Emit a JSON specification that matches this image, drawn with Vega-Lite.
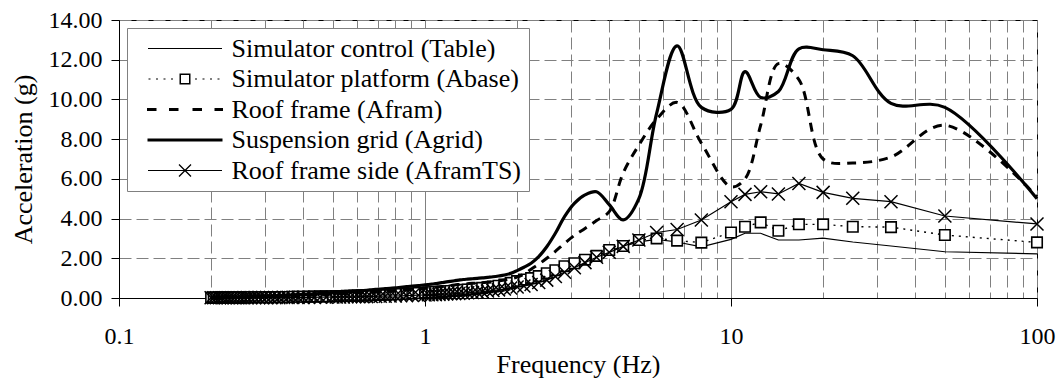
{
"$schema": "https://vega.github.io/schema/vega-lite/v6.json",
"width": 918, "height": 278,
"autosize": {"type": "none"},
"padding": {"left": 119, "top": 20, "right": 23, "bottom": 80},
"background": "white",
"config": {"view": {"stroke": "black", "strokeWidth": 1}},
"datasets": {
"table": [{"f":0.2,"a":0.02},{"f":0.204,"a":0.02},{"f":0.208,"a":0.02},{"f":0.213,"a":0.02},{"f":0.217,"a":0.02},{"f":0.222,"a":0.03},{"f":0.227,"a":0.03},{"f":0.233,"a":0.03},{"f":0.238,"a":0.03},{"f":0.244,"a":0.03},{"f":0.25,"a":0.03},{"f":0.256,"a":0.03},{"f":0.263,"a":0.03},{"f":0.27,"a":0.04},{"f":0.278,"a":0.04},{"f":0.286,"a":0.04},{"f":0.294,"a":0.04},{"f":0.303,"a":0.04},{"f":0.313,"a":0.04},{"f":0.323,"a":0.05},{"f":0.333,"a":0.05},{"f":0.345,"a":0.05},{"f":0.357,"a":0.05},{"f":0.37,"a":0.06},{"f":0.385,"a":0.06},{"f":0.4,"a":0.06},{"f":0.417,"a":0.07},{"f":0.435,"a":0.07},{"f":0.455,"a":0.08},{"f":0.476,"a":0.08},
{"f":0.5,"a":0.09},{"f":0.513,"a":0.09},{"f":0.526,"a":0.1},{"f":0.541,"a":0.1},{"f":0.556,"a":0.11},{"f":0.571,"a":0.11},{"f":0.588,"a":0.12},{"f":0.606,"a":0.12},{"f":0.625,"a":0.13},{"f":0.645,"a":0.13},{"f":0.667,"a":0.14},{"f":0.69,"a":0.15},{"f":0.714,"a":0.16},{"f":0.741,"a":0.17},{"f":0.769,"a":0.18},{"f":0.8,"a":0.19},{"f":0.833,"a":0.2},{"f":0.87,"a":0.21},{"f":0.909,"a":0.23},{"f":0.952,"a":0.25},
{"f":1,"a":0.27},{"f":1.026,"a":0.28},{"f":1.053,"a":0.29},{"f":1.081,"a":0.3},{"f":1.111,"a":0.31},{"f":1.143,"a":0.32},{"f":1.176,"a":0.34},{"f":1.212,"a":0.35},{"f":1.25,"a":0.37},{"f":1.29,"a":0.39},{"f":1.333,"a":0.41},{"f":1.379,"a":0.43},{"f":1.429,"a":0.45},{"f":1.481,"a":0.48},{"f":1.538,"a":0.51},{"f":1.6,"a":0.54},{"f":1.667,"a":0.58},{"f":1.739,"a":0.62},{"f":1.818,"a":0.67},{"f":1.905,"a":0.73},
{"f":2,"a":0.8},{"f":2.105,"a":0.88},{"f":2.222,"a":0.97},{"f":2.353,"a":1.08},{"f":2.5,"a":1.22},{"f":2.667,"a":1.38},{"f":2.857,"a":1.55},{"f":3.077,"a":1.73},{"f":3.333,"a":1.93},{"f":3.636,"a":2.13},
{"f":4,"a":2.38},{"f":4.444,"a":2.6},{"f":5,"a":2.83},{"f":5.714,"a":2.95},{"f":6.667,"a":2.82},{"f":8,"a":2.58},{"f":10,"a":2.95},
{"f":11.111,"a":3.26},{"f":12.5,"a":3.26},{"f":14.286,"a":2.92},{"f":16.667,"a":2.92},{"f":20,"a":3.02},{"f":25,"a":2.82},{"f":33.333,"a":2.62},{"f":50,"a":2.33},{"f":100,"a":2.22}],
"abase": [{"f":0.2,"a":0.02},{"f":0.204,"a":0.02},{"f":0.208,"a":0.02},{"f":0.213,"a":0.02},{"f":0.217,"a":0.02},{"f":0.222,"a":0.03},{"f":0.227,"a":0.03},{"f":0.233,"a":0.03},{"f":0.238,"a":0.03},{"f":0.244,"a":0.03},{"f":0.25,"a":0.03},{"f":0.256,"a":0.03},{"f":0.263,"a":0.03},{"f":0.27,"a":0.04},{"f":0.278,"a":0.04},{"f":0.286,"a":0.04},{"f":0.294,"a":0.04},{"f":0.303,"a":0.04},{"f":0.313,"a":0.04},{"f":0.323,"a":0.05},{"f":0.333,"a":0.05},{"f":0.345,"a":0.05},{"f":0.357,"a":0.05},{"f":0.37,"a":0.06},{"f":0.385,"a":0.06},{"f":0.4,"a":0.06},{"f":0.417,"a":0.07},{"f":0.435,"a":0.07},{"f":0.455,"a":0.08},{"f":0.476,"a":0.08},
{"f":0.5,"a":0.09},{"f":0.513,"a":0.09},{"f":0.526,"a":0.1},{"f":0.541,"a":0.1},{"f":0.556,"a":0.11},{"f":0.571,"a":0.11},{"f":0.588,"a":0.12},{"f":0.606,"a":0.12},{"f":0.625,"a":0.13},{"f":0.645,"a":0.13},{"f":0.667,"a":0.14},{"f":0.69,"a":0.15},{"f":0.714,"a":0.16},{"f":0.741,"a":0.17},{"f":0.769,"a":0.18},{"f":0.8,"a":0.19},{"f":0.833,"a":0.2},{"f":0.87,"a":0.21},{"f":0.909,"a":0.23},{"f":0.952,"a":0.25},
{"f":1,"a":0.27},{"f":1.026,"a":0.28},{"f":1.053,"a":0.29},{"f":1.081,"a":0.3},{"f":1.111,"a":0.31},{"f":1.143,"a":0.32},{"f":1.176,"a":0.34},{"f":1.212,"a":0.35},{"f":1.25,"a":0.37},{"f":1.29,"a":0.39},{"f":1.333,"a":0.41},{"f":1.379,"a":0.43},{"f":1.429,"a":0.45},{"f":1.481,"a":0.48},{"f":1.538,"a":0.51},{"f":1.6,"a":0.54},{"f":1.667,"a":0.58},{"f":1.739,"a":0.62},{"f":1.818,"a":0.68},{"f":1.905,"a":0.76},
{"f":2,"a":0.85},{"f":2.105,"a":0.93},{"f":2.222,"a":1.0},{"f":2.353,"a":1.1},{"f":2.5,"a":1.25},{"f":2.667,"a":1.4},{"f":2.857,"a":1.6},{"f":3.077,"a":1.75},{"f":3.333,"a":1.93},{"f":3.636,"a":2.12},
{"f":4,"a":2.42},{"f":4.444,"a":2.62},{"f":5,"a":2.92},{"f":5.714,"a":3.0},{"f":6.667,"a":2.89},{"f":8,"a":2.79},{"f":10,"a":3.3},
{"f":11.111,"a":3.59},{"f":12.5,"a":3.81},{"f":14.286,"a":3.39},{"f":16.667,"a":3.71},{"f":20,"a":3.71},{"f":25,"a":3.59},{"f":33.333,"a":3.57},{"f":50,"a":3.17},{"f":100,"a":2.8}],
"afram": [{"f":0.2,"a":0.02},{"f":0.204,"a":0.02},{"f":0.208,"a":0.02},{"f":0.213,"a":0.02},{"f":0.217,"a":0.03},{"f":0.222,"a":0.03},{"f":0.227,"a":0.03},{"f":0.233,"a":0.04},{"f":0.238,"a":0.04},{"f":0.244,"a":0.04},{"f":0.25,"a":0.04},{"f":0.256,"a":0.04},{"f":0.263,"a":0.05},{"f":0.27,"a":0.05},{"f":0.278,"a":0.06},{"f":0.286,"a":0.06},{"f":0.294,"a":0.06},{"f":0.303,"a":0.07},{"f":0.313,"a":0.07},{"f":0.323,"a":0.08},{"f":0.333,"a":0.09},{"f":0.345,"a":0.09},{"f":0.357,"a":0.1},{"f":0.37,"a":0.11},{"f":0.385,"a":0.12},{"f":0.4,"a":0.13},{"f":0.417,"a":0.14},{"f":0.435,"a":0.15},{"f":0.455,"a":0.17},{"f":0.476,"a":0.18},
{"f":0.5,"a":0.19},{"f":0.513,"a":0.2},{"f":0.526,"a":0.21},{"f":0.541,"a":0.22},{"f":0.556,"a":0.22},{"f":0.571,"a":0.23},{"f":0.588,"a":0.24},{"f":0.606,"a":0.25},{"f":0.625,"a":0.27},{"f":0.645,"a":0.28},{"f":0.667,"a":0.29},{"f":0.69,"a":0.31},{"f":0.714,"a":0.32},{"f":0.741,"a":0.34},{"f":0.769,"a":0.35},{"f":0.8,"a":0.37},{"f":0.833,"a":0.39},{"f":0.87,"a":0.41},{"f":0.909,"a":0.43},{"f":0.952,"a":0.46},
{"f":1,"a":0.49},{"f":1.026,"a":0.5},{"f":1.053,"a":0.52},{"f":1.081,"a":0.54},{"f":1.111,"a":0.56},{"f":1.143,"a":0.58},{"f":1.176,"a":0.61},{"f":1.212,"a":0.63},{"f":1.25,"a":0.66},{"f":1.29,"a":0.68},{"f":1.333,"a":0.7},{"f":1.379,"a":0.72},{"f":1.429,"a":0.74},{"f":1.481,"a":0.75},{"f":1.538,"a":0.77},{"f":1.6,"a":0.79},{"f":1.667,"a":0.82},{"f":1.739,"a":0.86},{"f":1.818,"a":0.91},{"f":1.905,"a":0.97},
{"f":2,"a":1.05},{"f":2.105,"a":1.2},{"f":2.222,"a":1.45},{"f":2.353,"a":1.7},{"f":2.5,"a":2.0},{"f":2.667,"a":2.35},{"f":2.857,"a":2.75},{"f":3.077,"a":3.15},{"f":3.333,"a":3.5},{"f":3.636,"a":3.9},
{"f":4,"a":4.35},{"f":4.444,"a":6.3},{"f":5,"a":7.7},{"f":5.714,"a":9.0},{"f":6.667,"a":9.85},{"f":8,"a":7.8},{"f":10,"a":5.6},
{"f":11.111,"a":6.0},{"f":12.5,"a":8.7},{"f":14.286,"a":11.8},{"f":16.667,"a":11.0},{"f":20,"a":7.0},{"f":25,"a":6.8},{"f":33.333,"a":7.1},{"f":50,"a":8.7},{"f":100,"a":5.1}],
"agrid": [{"f":0.2,"a":0.03},{"f":0.204,"a":0.03},{"f":0.208,"a":0.03},{"f":0.213,"a":0.03},{"f":0.217,"a":0.04},{"f":0.222,"a":0.04},{"f":0.227,"a":0.04},{"f":0.233,"a":0.05},{"f":0.238,"a":0.05},{"f":0.244,"a":0.05},{"f":0.25,"a":0.06},{"f":0.256,"a":0.06},{"f":0.263,"a":0.07},{"f":0.27,"a":0.07},{"f":0.278,"a":0.08},{"f":0.286,"a":0.08},{"f":0.294,"a":0.09},{"f":0.303,"a":0.1},{"f":0.313,"a":0.1},{"f":0.323,"a":0.11},{"f":0.333,"a":0.12},{"f":0.345,"a":0.13},{"f":0.357,"a":0.14},{"f":0.37,"a":0.15},{"f":0.385,"a":0.17},{"f":0.4,"a":0.18},{"f":0.417,"a":0.19},{"f":0.435,"a":0.21},{"f":0.455,"a":0.23},{"f":0.476,"a":0.25},
{"f":0.5,"a":0.27},{"f":0.513,"a":0.28},{"f":0.526,"a":0.29},{"f":0.541,"a":0.3},{"f":0.556,"a":0.31},{"f":0.571,"a":0.32},{"f":0.588,"a":0.34},{"f":0.606,"a":0.35},{"f":0.625,"a":0.37},{"f":0.645,"a":0.39},{"f":0.667,"a":0.41},{"f":0.69,"a":0.43},{"f":0.714,"a":0.45},{"f":0.741,"a":0.47},{"f":0.769,"a":0.49},{"f":0.8,"a":0.51},{"f":0.833,"a":0.54},{"f":0.87,"a":0.57},{"f":0.909,"a":0.6},{"f":0.952,"a":0.63},
{"f":1,"a":0.66},{"f":1.026,"a":0.68},{"f":1.053,"a":0.7},{"f":1.081,"a":0.72},{"f":1.111,"a":0.75},{"f":1.143,"a":0.78},{"f":1.176,"a":0.81},{"f":1.212,"a":0.84},{"f":1.25,"a":0.87},{"f":1.29,"a":0.9},{"f":1.333,"a":0.93},{"f":1.379,"a":0.95},{"f":1.429,"a":0.97},{"f":1.481,"a":0.99},{"f":1.538,"a":1.01},{"f":1.6,"a":1.04},{"f":1.667,"a":1.07},{"f":1.739,"a":1.11},{"f":1.818,"a":1.16},{"f":1.905,"a":1.24},
{"f":2,"a":1.38},{"f":2.105,"a":1.55},{"f":2.222,"a":1.75},{"f":2.353,"a":2.08},{"f":2.5,"a":2.58},{"f":2.667,"a":3.26},{"f":2.857,"a":4.1},{"f":3.077,"a":4.77},{"f":3.333,"a":5.19},{"f":3.636,"a":5.35},
{"f":4,"a":4.7},{"f":4.444,"a":3.93},{"f":5,"a":5.0},{"f":5.714,"a":9.3},{"f":6.667,"a":12.7},{"f":8,"a":9.6},{"f":10,"a":9.5},
{"f":11.111,"a":11.4},{"f":12.5,"a":10.1},{"f":14.286,"a":10.4},{"f":16.667,"a":12.55},{"f":20,"a":12.5},{"f":25,"a":12.2},{"f":33.333,"a":9.8},{"f":50,"a":9.6},{"f":100,"a":5.0}],
"aframts": [{"f":0.2,"a":0.01},{"f":0.204,"a":0.01},{"f":0.208,"a":0.01},{"f":0.213,"a":0.01},{"f":0.217,"a":0.01},{"f":0.222,"a":0.01},{"f":0.227,"a":0.01},{"f":0.233,"a":0.01},{"f":0.238,"a":0.01},{"f":0.244,"a":0.01},{"f":0.25,"a":0.01},{"f":0.256,"a":0.02},{"f":0.263,"a":0.02},{"f":0.27,"a":0.02},{"f":0.278,"a":0.02},{"f":0.286,"a":0.02},{"f":0.294,"a":0.02},{"f":0.303,"a":0.02},{"f":0.313,"a":0.02},{"f":0.323,"a":0.02},{"f":0.333,"a":0.02},{"f":0.345,"a":0.03},{"f":0.357,"a":0.03},{"f":0.37,"a":0.03},{"f":0.385,"a":0.03},{"f":0.4,"a":0.03},{"f":0.417,"a":0.03},{"f":0.435,"a":0.03},{"f":0.455,"a":0.04},{"f":0.476,"a":0.04},
{"f":0.5,"a":0.05},{"f":0.513,"a":0.05},{"f":0.526,"a":0.05},{"f":0.541,"a":0.05},{"f":0.556,"a":0.06},{"f":0.571,"a":0.06},{"f":0.588,"a":0.06},{"f":0.606,"a":0.07},{"f":0.625,"a":0.07},{"f":0.645,"a":0.07},{"f":0.667,"a":0.08},{"f":0.69,"a":0.08},{"f":0.714,"a":0.09},{"f":0.741,"a":0.09},{"f":0.769,"a":0.1},{"f":0.8,"a":0.1},{"f":0.833,"a":0.11},{"f":0.87,"a":0.12},{"f":0.909,"a":0.13},{"f":0.952,"a":0.14},
{"f":1,"a":0.15},{"f":1.026,"a":0.16},{"f":1.053,"a":0.16},{"f":1.081,"a":0.17},{"f":1.111,"a":0.18},{"f":1.143,"a":0.19},{"f":1.176,"a":0.2},{"f":1.212,"a":0.21},{"f":1.25,"a":0.22},{"f":1.29,"a":0.23},{"f":1.333,"a":0.24},{"f":1.379,"a":0.26},{"f":1.429,"a":0.28},{"f":1.481,"a":0.3},{"f":1.538,"a":0.32},{"f":1.6,"a":0.35},{"f":1.667,"a":0.38},{"f":1.739,"a":0.41},{"f":1.818,"a":0.45},{"f":1.905,"a":0.5},
{"f":2,"a":0.55},{"f":2.105,"a":0.6},{"f":2.222,"a":0.68},{"f":2.353,"a":0.78},{"f":2.5,"a":0.9},{"f":2.667,"a":1.08},{"f":2.857,"a":1.3},{"f":3.077,"a":1.52},{"f":3.333,"a":1.78},{"f":3.636,"a":2.05},
{"f":4,"a":2.3},{"f":4.444,"a":2.6},{"f":5,"a":2.92},{"f":5.714,"a":3.3},{"f":6.667,"a":3.45},{"f":8,"a":3.93},{"f":10,"a":4.85},
{"f":11.111,"a":5.22},{"f":12.5,"a":5.35},{"f":14.286,"a":5.24},{"f":16.667,"a":5.77},{"f":20,"a":5.32},{"f":25,"a":5.02},{"f":33.333,"a":4.85},{"f":50,"a":4.13},{"f":100,"a":3.73}]
},
"encoding": {
"x": {"field": "f", "type": "quantitative",
 "scale": {"type": "log", "domain": [0.1, 100]},
 "axis": {"title": "Frequency (Hz)",
  "values": [0.1,0.2,0.3,0.4,0.5,0.6,0.7,0.8,0.9,1,2,3,4,5,6,7,8,9,10,20,30,40,50,60,70,80,90,100],
  "format": "~g",
  "labelExpr": "(datum.value == 0.1 || datum.value == 1 || datum.value == 10 || datum.value == 100) ? datum.label : ''",
  "labelOverlap": false, "labelFlush": false, "labelBound": false,
  "labelFont": "Liberation Serif", "labelFontSize": 24, "labelColor": "black", "labelPadding": 18,
  "tickSize": 8, "tickColor": "black", "tickWidth": 1,
  "tickOpacity": {"condition": {"test": "datum.value == 0.1 || datum.value == 1 || datum.value == 10 || datum.value == 100", "value": 1}, "value": 0},
  "domainColor": "black", "domainWidth": 1,
  "grid": true, "gridColor": "#808080", "gridOpacity": 1, "gridWidth": 1,
  "gridDash": {"condition": {"test": "datum.value == 1 || datum.value == 10", "value": []}, "value": [12, 5]},
  "titleFont": "Liberation Serif", "titleFontSize": 26, "titleFontWeight": "normal", "titleColor": "black", "titlePadding": 3}},
"y": {"field": "a", "type": "quantitative",
 "scale": {"domain": [0, 14], "nice": false, "zero": true},
 "axis": {"title": "Acceleration (g)",
  "values": [0,2,4,6,8,10,12,14], "format": ".2f",
  "labelFont": "Liberation Serif", "labelFontSize": 24, "labelColor": "black", "labelPadding": 9,
  "tickSize": 8, "tickColor": "black", "tickWidth": 1,
  "domainColor": "black", "domainWidth": 1,
  "grid": true, "gridColor": "#808080", "gridOpacity": 1, "gridWidth": 1, "gridDash": [12, 5],
  "titleFont": "Liberation Serif", "titleFontSize": 26, "titleFontWeight": "normal", "titleColor": "black", "titlePadding": 12}}
},
"layer": [
{"data": {"name": "table"}, "mark": {"type": "line", "color": "black", "strokeWidth": 1.2, "interpolate": "linear"}},
{"data": {"name": "abase"}, "mark": {"type": "line", "color": "black", "strokeWidth": 1.4, "strokeDash": [2, 5], "interpolate": "linear"}},
{"data": {"name": "abase"}, "mark": {"type": "point", "shape": "square", "size": 110, "filled": true, "fill": "white", "stroke": "black", "strokeWidth": 1.6, "opacity": 1}},
{"data": {"name": "afram"}, "mark": {"type": "line", "color": "black", "strokeWidth": 3, "strokeDash": [9, 7], "interpolate": "catmull-rom"}},
{"data": {"name": "agrid"}, "mark": {"type": "line", "color": "black", "strokeWidth": 3.2, "interpolate": "catmull-rom"}},
{"data": {"name": "aframts"}, "mark": {"type": "line", "color": "black", "strokeWidth": 1.2, "interpolate": "linear"}},
{"data": {"name": "aframts"}, "mark": {"type": "point", "shape": "M-1,-1L1,1M1,-1L-1,1", "size": 169, "filled": false, "stroke": "black", "strokeWidth": 1.5, "opacity": 1}},
{"data": {"values": [{"s": "Simulator control (Table)"}, {"s": "Simulator platform (Abase)"}, {"s": "Roof frame (Afram)"}, {"s": "Suspension grid (Agrid)"}, {"s": "Roof frame side (AframTS)"}]},
 "mark": {"type": "point", "filled": true, "opacity": 0, "color": "black"},
 "encoding": {
  "x": {"value": 0}, "y": {"value": 0},
  "shape": {"field": "s", "type": "nominal",
   "scale": {"domain": ["Simulator control (Table)", "Simulator platform (Abase)", "Roof frame (Afram)", "Suspension grid (Agrid)", "Roof frame side (AframTS)"],
    "range": ["M-3.7,-0.06H3.7V0.06H-3.7Z",
     "M-3.65,-0.06H-3.45V0.06H-3.65ZM-2.9,-0.06H-2.7V0.06H-2.9ZM-2.15,-0.06H-1.95V0.06H-2.15ZM-1.4,-0.06H-1.2V0.06H-1.4ZM1,-0.06H1.2V0.06H1ZM1.75,-0.06H1.95V0.06H1.75ZM2.5,-0.06H2.7V0.06H2.5ZM3.25,-0.06H3.45V0.06H3.25ZM-0.55,-0.55H0.55V0.55H-0.55ZM-0.4,-0.4V0.4H0.4V-0.4Z",
     "M-3.8,-0.16H-2.85V0.16H-3.8ZM-1.6,-0.16H-0.65V0.16H-1.6ZM0.75,-0.16H1.7V0.16H0.75ZM2.95,-0.16H3.8V0.16H2.95Z",
     "M-3.75,-0.16H3.75V0.16H-3.75Z",
     "M-3.7,-0.06H3.7V0.06H-3.7ZM-0.554,-0.646L0.646,0.554L0.554,0.646L-0.646,-0.554ZM0.646,-0.554L-0.554,0.646L-0.646,0.554L0.554,-0.646Z"]},
   "legend": {"title": null, "orient": "top-left", "offset": 8, "padding": 7.5,
    "strokeColor": "#808080", "fillColor": "white", "cornerRadius": 0,
    "labelFont": "Liberation Serif", "labelFontSize": 26, "labelColor": "black", "labelLimit": 500, "labelOffset": 33.5,
    "symbolSize": 400, "symbolOffset": 37.5, "symbolStrokeWidth": 0, "symbolFillColor": "black", "symbolStrokeColor": "black", "symbolOpacity": 1,
    "rowPadding": 4.5}}}}
]
}
